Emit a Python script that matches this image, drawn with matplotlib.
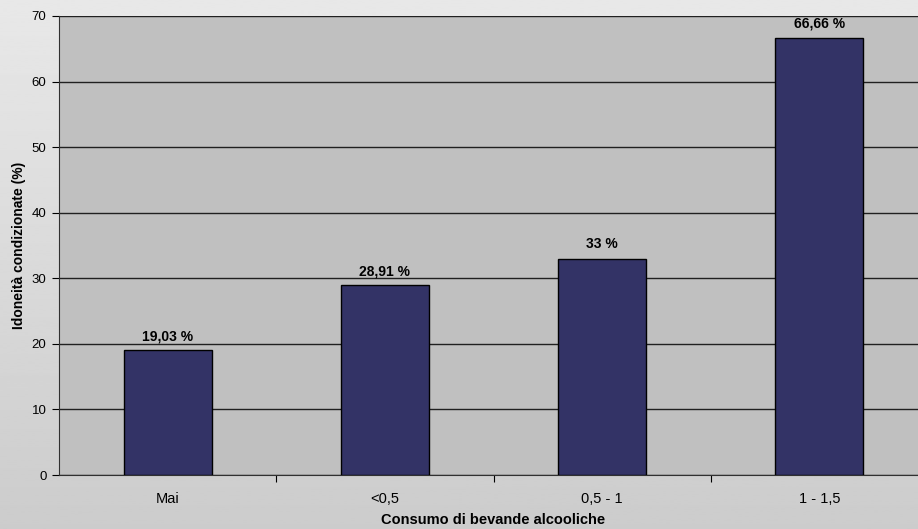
import matplotlib.pyplot as plt
import numpy as np

plt.rcParams['font.family'] = ['Liberation Sans', 'DejaVu Sans']

categories = ['Mai', '<0,5', '0,5 - 1', '1 - 1,5']
values = [19.03, 28.91, 33.0, 66.66]
value_labels = ['19,03 %', '28,91 %', '33 %', '66,66 %']

fig = plt.figure(figsize=(9.18, 5.29), dpi=100)

# light-to-darker grey backdrop like the slide behind the chart
bg = fig.add_axes([0, 0, 1, 1], zorder=-10)
grad = np.linspace(0.91, 0.80, 256).reshape(-1, 1)
bg.imshow(grad, cmap='gray', vmin=0, vmax=1, aspect='auto', extent=[0, 1, 0, 1])
bg.axis('off')

ax = fig.add_axes([59 / 918, 1 - 475 / 529, (928 - 59) / 918, (475 - 16) / 529])
ax.set_facecolor('#c0c0c0')

x = np.arange(len(categories))
ax.bar(x, values, 0.405, color='#333366', edgecolor='black', linewidth=1, zorder=3)
for xi, v, lab in zip(x, values, value_labels):
    ax.text(xi, v + 1.1, lab, ha='center', va='bottom', fontsize=10, fontweight='bold', zorder=4)

ax.set_xlim(-0.5, 3.5)
ax.set_ylim(0, 70)
ax.set_yticks(range(0, 71, 10))
ax.yaxis.grid(True, color='#202020', linewidth=1, zorder=1)
ax.set_axisbelow(True)

ax.set_xticks(x + 0.5)
ax.set_xticklabels([])
ax.set_xticks(x, minor=True)
ax.set_xticklabels(categories, minor=True, fontsize=10.5)
ax.tick_params(axis='x', which='minor', length=0, pad=12)
ax.tick_params(axis='x', which='major', length=5, direction='out', color='black')
ax.tick_params(axis='y', length=5, direction='out', labelsize=9.5, pad=4)

for s in ['top', 'right']:
    ax.spines[s].set_visible(False)
ax.spines['left'].set_color('#303030')
ax.spines['bottom'].set_color('#303030')

ax.set_xlabel('Consumo di bevande alcooliche', fontsize=10.5, fontweight='bold', labelpad=5)
ax.set_ylabel('Idoneità condizionate (%)', fontsize=10, fontweight='bold', labelpad=4)

fig.savefig('out.png', dpi=100)
